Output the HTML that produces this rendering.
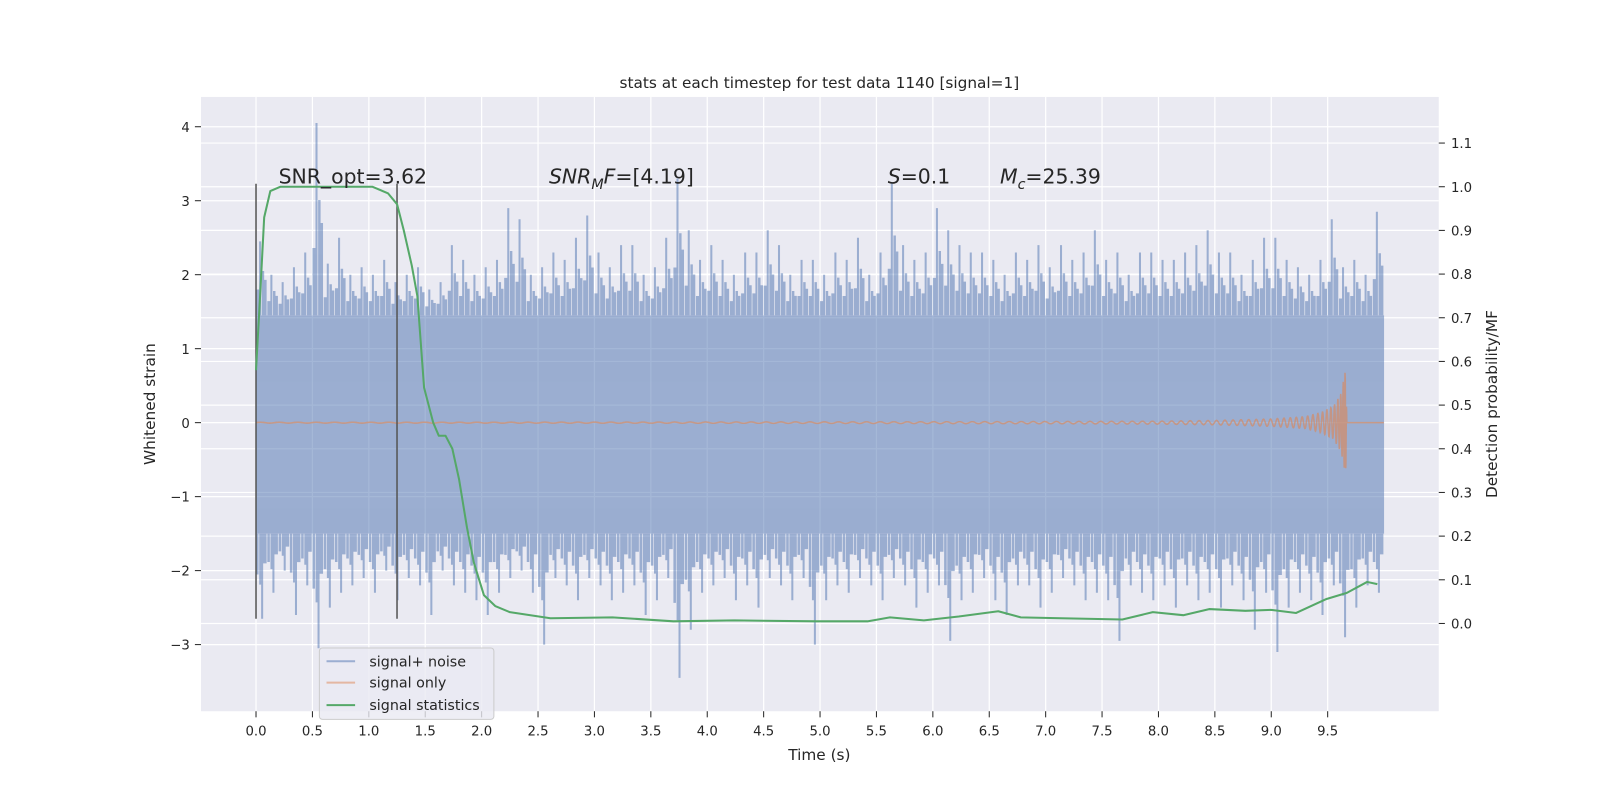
<!DOCTYPE html>
<html><head><meta charset="utf-8">
<style>
html,body{margin:0;padding:0;background:#fff;overflow:hidden;width:1600px;height:800px;}
svg{display:block;}
svg text{font-family:"DejaVu Sans","Liberation Sans",sans-serif;}
</style></head>
<body>
<svg id="chart" width="1600" height="800" viewBox="0 0 1600 800" xmlns="http://www.w3.org/2000/svg">
<rect x="0" y="0" width="1600" height="800" fill="#fff"/>
<g transform="scale(1.0204)">
<rect x="197" y="95" width="1213" height="602" fill="#eaeaf2"/>
<g id="grid"></g>
<g id="marks"></g>
<g id="axes"></g>
<text x="803" y="86" font-size="15" text-anchor="middle" fill="#262626">stats at each timestep for test data 1140 [signal=1]</text>
<text x="803" y="745" font-size="15" text-anchor="middle" fill="#262626">Time (s)</text>
<text transform="translate(152,396) rotate(-90)" font-size="15" text-anchor="middle" fill="#262626">Whitened strain</text>
<text transform="translate(1467,396) rotate(-90)" font-size="15" text-anchor="middle" fill="#262626">Detection probability/MF</text>
<text x="273" y="180" font-size="20" fill="#262626">SNR_opt=3.62</text>
<text x="538" y="180" font-size="20" fill="#262626"><tspan font-style="italic">SNR</tspan><tspan font-style="italic" font-size="14" dy="5">M</tspan><tspan font-style="italic" dy="-5">F</tspan>=[4.19]</text>
<text x="870" y="180" font-size="20" fill="#262626"><tspan font-style="italic">S</tspan>=0.1</text>
<text x="980" y="180" font-size="20" fill="#262626"><tspan font-style="italic">M</tspan><tspan font-style="italic" font-size="14" dy="5">c</tspan><tspan dy="-5">=25.39</tspan></text>
<g>
<rect x="313" y="635" width="171" height="70" rx="3" fill="#eaeaf2" fill-opacity="0.8" stroke="#cccccc"/>
<g><line x1="320" y1="648" x2="348" y2="648" stroke="#4c72b0" stroke-opacity="0.5" stroke-width="2"/><text x="362" y="653" font-size="14" fill="#262626">signal+ noise</text></g>
<g><line x1="320" y1="669" x2="348" y2="669" stroke="#dd8452" stroke-opacity="0.5" stroke-width="2"/><text x="362" y="674" font-size="14" fill="#262626">signal only</text></g>
<g><line x1="320" y1="691" x2="348" y2="691" stroke="#55a868" stroke-width="2"/><text x="362" y="696" font-size="14" fill="#262626">signal statistics</text></g>
</g>
</g>
</svg>
<script>
// ---- data ----
const xTicks = [0,0.5,1,1.5,2,2.5,3,3.5,4,4.5,5,5.5,6,6.5,7,7.5,8,8.5,9,9.5];
const yTicks = [-3,-2,-1,0,1,2,3,4];
const y2Ticks = [0,0.1,0.2,0.3,0.4,0.5,0.6,0.7,0.8,0.9,1.0,1.1];
// noise peaks per 0.1 s bin
const noiseUpper = [2.45,2.0,1.9,2.1,2.3,4.05,2.15,2.5,2.0,2.1,2.0,2.2,1.9,2.0,2.1,1.8,1.9,2.4,2.2,2.0,2.1,2.2,2.9,2.75,2.0,2.1,2.3,2.2,2.5,2.8,2.3,2.1,2.4,2.4,2.0,2.1,2.5,3.3,2.6,2.2,2.4,2.2,2.0,2.3,2.3,2.6,2.4,2.0,2.2,2.2,2.0,2.3,2.2,2.5,2.0,2.3,3.25,2.4,2.2,2.3,2.9,2.6,2.4,2.3,2.3,2.2,2.0,2.3,2.2,2.4,2.1,2.4,2.2,2.3,2.6,2.2,2.3,2.0,2.3,2.3,2.2,2.2,2.3,2.4,2.6,2.3,2.3,2.0,2.2,2.5,2.5,2.2,2.1,2.0,2.2,2.75,2.1,2.2,2.0,2.85];
const noiseLower = [-2.65,-2.3,-2.0,-2.6,-2.2,-3.05,-2.5,-2.3,-2.2,-2.1,-2.3,-2.0,-2.4,-2.1,-2.2,-2.6,-2.0,-2.2,-2.3,-2.4,-2.6,-2.3,-2.1,-2.0,-2.3,-3.0,-2.1,-2.2,-2.4,-2.1,-2.2,-2.4,-2.3,-2.2,-2.6,-2.4,-2.1,-3.45,-2.8,-2.3,-2.2,-2.1,-2.4,-2.2,-2.5,-2.1,-2.2,-2.4,-2.1,-3.0,-2.4,-2.2,-2.3,-2.1,-2.2,-2.4,-2.1,-2.2,-2.5,-2.3,-2.2,-2.95,-2.4,-2.3,-2.1,-2.4,-2.6,-2.2,-2.2,-2.5,-2.3,-2.1,-2.2,-2.4,-2.3,-2.4,-2.95,-2.2,-2.3,-2.4,-2.2,-2.5,-2.2,-2.4,-2.3,-2.5,-2.2,-2.4,-2.8,-2.3,-3.1,-2.5,-2.3,-2.4,-2.6,-2.2,-2.9,-2.5,-2.2,-2.3];
const coreUpper = 1.45, coreLower = -1.5;
// signal envelope vs time
const chirpT = [0,2,4,6,7,8,8.5,9,9.3,9.45,9.55,9.62,9.66,9.67,10];
const chirpAmp = [0.005,0.006,0.008,0.012,0.015,0.02,0.03,0.05,0.08,0.14,0.22,0.4,0.75,0,0];
// detection probability
const statT = [0,0.036,0.072,0.127,0.217,1.03,1.17,1.25,1.31,1.38,1.43,1.49,1.57,1.62,1.68,1.74,1.80,1.87,1.93,2.02,2.12,2.25,2.61,3.16,3.70,4.24,4.97,5.42,5.62,5.92,6.23,6.58,6.78,7.14,7.68,7.95,8.22,8.45,8.77,9.0,9.22,9.49,9.67,9.85,9.94];
const statP = [0.58,0.75,0.93,0.99,1.0,1.0,0.985,0.96,0.90,0.82,0.75,0.54,0.46,0.43,0.43,0.40,0.33,0.22,0.14,0.065,0.04,0.026,0.012,0.014,0.005,0.007,0.005,0.005,0.014,0.007,0.016,0.028,0.014,0.012,0.009,0.026,0.019,0.033,0.029,0.031,0.024,0.056,0.07,0.095,0.09];
const markerT = [0,1.25];

// ---- axes functions (pre-scale coordinates) ----
const X = t => 250.9 + t*110.55;
const Y = v => 414.2 - v*72.5;
const Y2 = p => 611 - p*428;
const NS = 'http://www.w3.org/2000/svg';
function mk(tag, attrs, parent){const e=document.createElementNS(NS,tag);for(const k in attrs)e.setAttribute(k,attrs[k]);parent.appendChild(e);return e;}
const grid=document.getElementById('grid'), marks=document.getElementById('marks'), axes=document.getElementById('axes');

xTicks.forEach(t=>{
  const l=mk('line',{x1:X(t),x2:X(t),y1:95,y2:697,stroke:'#fff','stroke-width':1.2},grid);
  
  
  const tk=mk('line',{x1:X(t),x2:X(t),y1:697,y2:703,stroke:'#262626','stroke-width':1},axes);
  
  
  const tx=mk('text',{x:X(t),y:721,'font-size':13,'text-anchor':'middle',fill:'#262626'},axes);
  tx.textContent=t.toFixed(1);
  
  
});
yTicks.forEach(v=>{
  const l=mk('line',{x1:197,x2:1410,y1:Y(v),y2:Y(v),stroke:'#fff','stroke-width':1.2},grid);
  
  
  const tk=mk('line',{x1:191,x2:197,y1:Y(v),y2:Y(v),stroke:'#262626'},axes);
  
  
  const tx=mk('text',{x:186,y:Y(v)+5,'font-size':13,'text-anchor':'end',fill:'#262626'},axes);
  tx.textContent=(v<0?'\u2212'+(-v):String(v));
  
  
});
y2Ticks.forEach(p=>{
  const l=mk('line',{x1:197,x2:1410,y1:Y2(p),y2:Y2(p),stroke:'#fff','stroke-width':1.2},grid);
  
  
  const tk=mk('line',{x1:1410,x2:1416,y1:Y2(p),y2:Y2(p),stroke:'#262626'},axes);
  
  
  const tx=mk('text',{x:1422,y:Y2(p)+5,'font-size':13,fill:'#262626'},axes);
  tx.textContent=p.toFixed(1);
  
  
});

// noise
const ng=mk('g',{opacity:0.5},marks);


const core=mk('rect',{x:X(0),y:Y(coreUpper),width:X(10)-X(0),height:Y(coreLower)-Y(coreUpper),fill:'#4c72b0'},ng);


let pu='M'+X(0)+','+Y(coreUpper), pl='M'+X(0)+','+Y(coreLower);
noiseUpper.forEach((v,i)=>{
  const x0=X(i*0.1), x1=X(i*0.1+0.1), b=coreUpper;
  const m1=b+(v-b)*0.6, m2=b+(v-b)*0.35, m3=b+(v-b)*0.48;
  pu+=` L${x0},${Y(m2)} L${x0+3},${Y(m2)} L${x0+3},${Y(v)} L${x0+5},${Y(v)} L${x0+5},${Y(b)} L${x0+5.6},${Y(b)} L${x0+5.6},${Y(m1)} L${x0+8},${Y(m1)} L${x0+8},${Y(m3)} L${x0+10.4},${Y(m3)} L${x0+10.4},${Y(b)} L${x1},${Y(b)}`;
  const w=noiseLower[i], c=coreLower;
  const n1=c+(w-c)*0.6, n2=c+(w-c)*0.35, n3=c+(w-c)*0.48;
  pl+=` L${x0},${Y(n3)} L${x0+2.5},${Y(n3)} L${x0+2.5},${Y(c)} L${x0+3.1},${Y(c)} L${x0+3.1},${Y(n1)} L${x0+5},${Y(n1)} L${x0+5},${Y(w)} L${x0+7},${Y(w)} L${x0+7},${Y(n2)} L${x0+10.4},${Y(n2)} L${x0+10.4},${Y(c)} L${x1},${Y(c)}`;
});
pu+=` L${X(10)},${Y(coreUpper)} Z`; pl+=` L${X(10)},${Y(coreLower)} Z`;
const up=mk('path',{d:pu,fill:'#4c72b0'},ng);


const lo=mk('path',{d:pl,fill:'#4c72b0'},ng);



// signal chirp
function amp(t){for(let i=1;i<chirpT.length;i++){if(t<=chirpT[i]){const f=(t-chirpT[i-1])/(chirpT[i]-chirpT[i-1]);return chirpAmp[i-1]+f*(chirpAmp[i]-chirpAmp[i-1]);}}return 0;}
let sp='', phase=0;
for(let t=0;t<=10;t+=0.002){
  const tc=Math.max(9.67-t,0.01);
  phase+=2*Math.PI*(6*Math.pow(tc/9.67,-0.375))*0.002;
  sp+=(sp?' L':'M')+X(t).toFixed(1)+','+Y(amp(t)*Math.sin(phase)).toFixed(1);
}
const sig=mk('path',{d:sp,fill:'none',stroke:'#dd8452','stroke-opacity':0.6,'stroke-width':1.5},marks);



// marker lines
markerT.forEach(t=>{
  const l=mk('line',{x1:X(t),x2:X(t),y1:Y(3.23),y2:Y(-2.65),stroke:'#555','stroke-width':1.5},marks);
  
  
});

// statistics
const stp=statT.map((t,i)=>(i?'L':'M')+X(t).toFixed(1)+','+Y2(statP[i]).toFixed(1)).join(' ');
const st=mk('path',{d:stp,fill:'none',stroke:'#55a868','stroke-width':2,'stroke-linejoin':'round'},marks);


</script>
</body></html>
